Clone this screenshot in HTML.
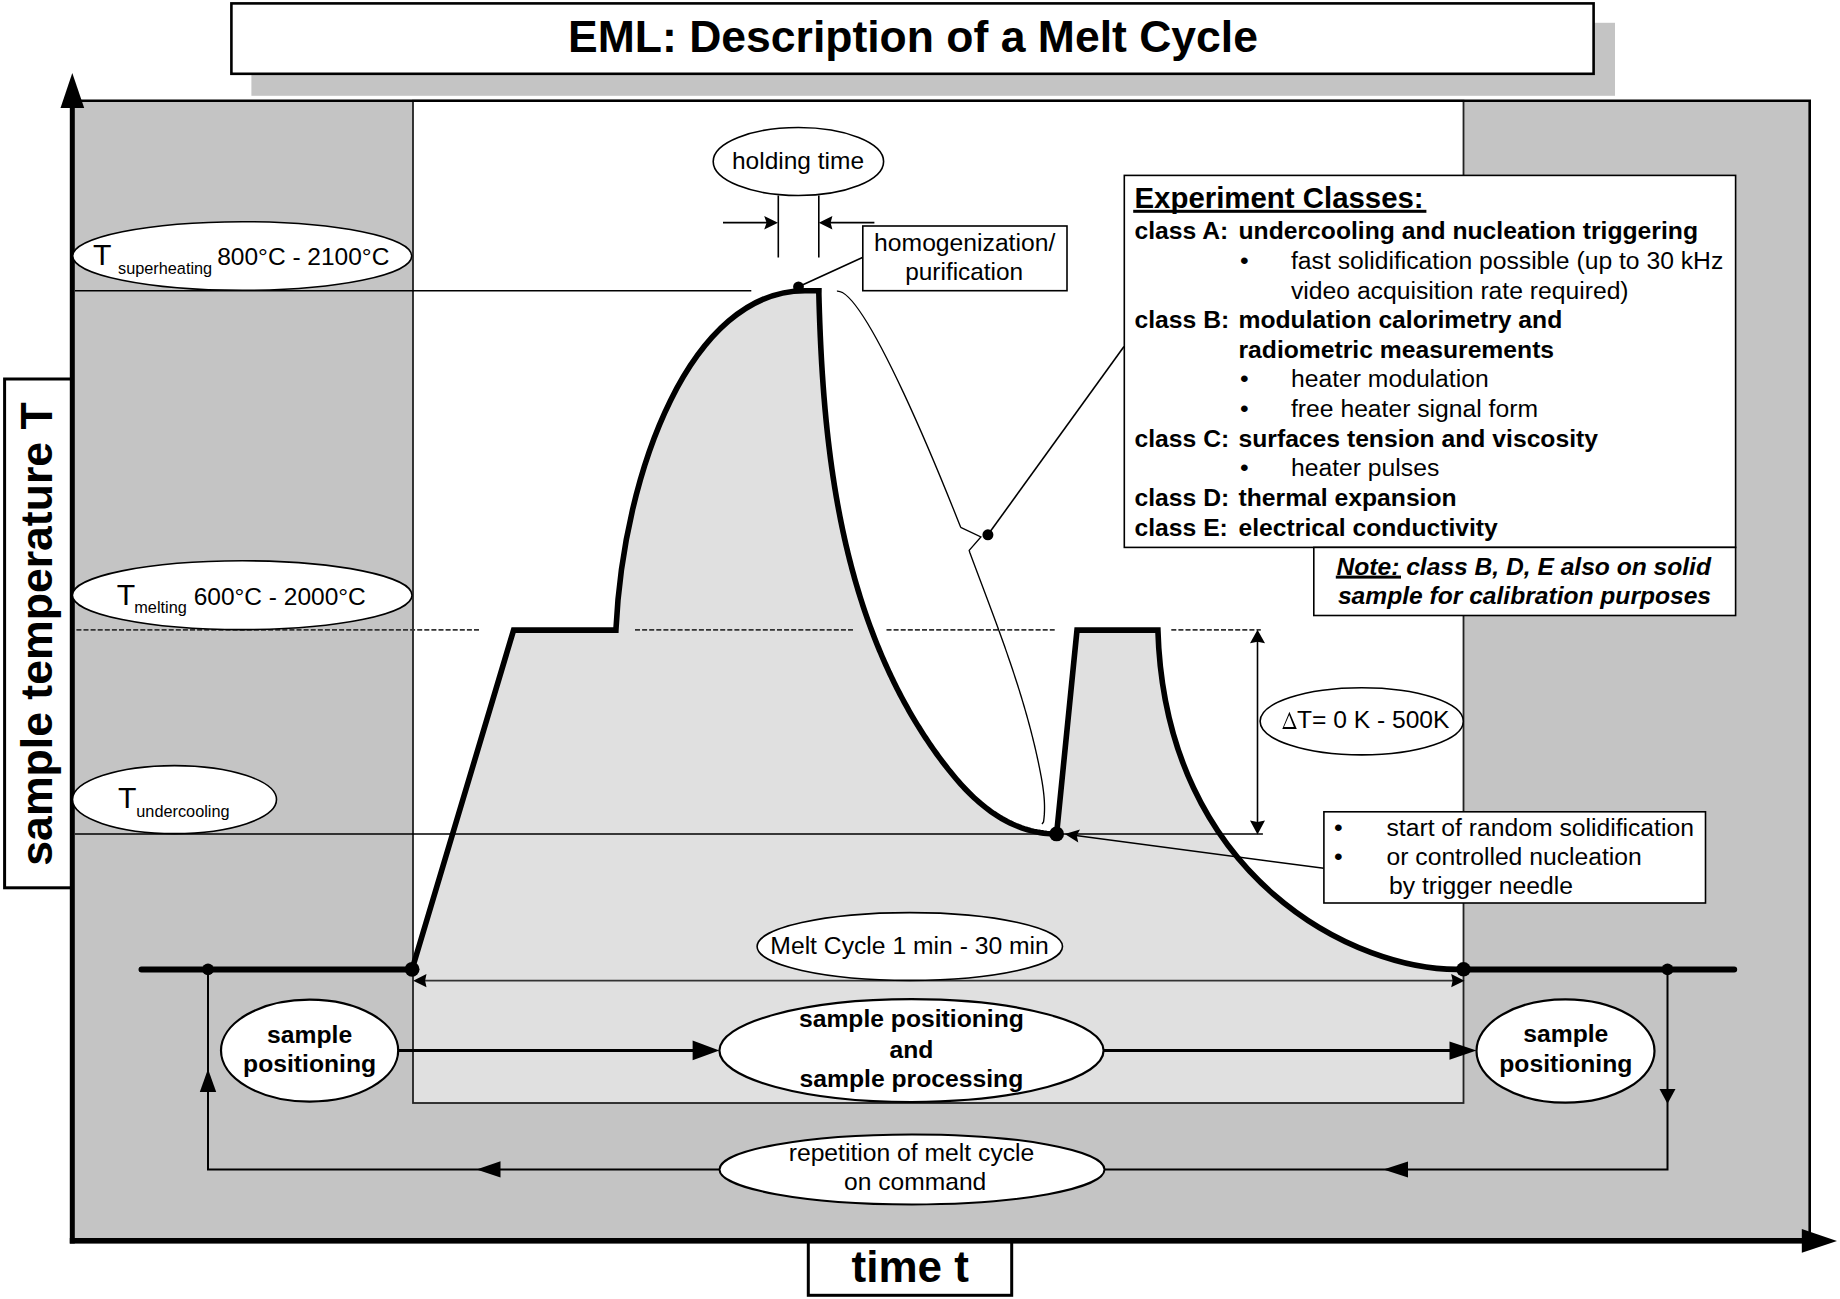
<!DOCTYPE html>
<html><head><meta charset="utf-8"><style>
html,body{margin:0;padding:0;background:#fff;}
svg{display:block;}
text{fill:#000;}
</style></head><body>
<svg width="1840" height="1299" viewBox="0 0 1840 1299">
<rect x="72" y="100.7" width="1737.7" height="1140" fill="#c4c4c4"/>
<rect x="413" y="100.7" width="1050.5" height="1002.3" fill="#fff"/>
<path d="M412.1,969.3 L513.6,630.1 L615.9,630.1 C623.4,470.2 691.1,290.7 805.0,290.7 L818.9,290.7 L818.85,293.91 L818.94,297.09 L819.02,300.26 L819.11,303.44 L819.21,306.62 L819.31,309.80 L819.41,312.98 L819.52,316.17 L819.63,319.35 L819.75,322.54 L819.87,325.72 L819.99,328.91 L820.13,332.09 L820.26,335.28 L820.40,338.47 L820.55,341.66 L820.70,344.85 L820.86,348.04 L821.02,351.23 L821.19,354.42 L821.36,357.61 L821.54,360.81 L821.72,364.00 L821.92,367.19 L822.11,370.38 L822.32,373.57 L822.53,376.76 L822.75,379.96 L822.97,383.15 L823.20,386.34 L823.44,389.53 L823.68,392.72 L823.93,395.91 L824.19,399.10 L824.46,402.29 L824.73,405.48 L825.01,408.67 L825.30,411.85 L825.60,415.04 L825.90,418.23 L826.21,421.41 L826.54,424.59 L826.86,427.78 L827.20,430.96 L827.55,434.14 L827.90,437.32 L828.26,440.50 L828.64,443.67 L829.02,446.85 L829.41,450.02 L829.81,453.19 L830.21,456.37 L830.63,459.53 L831.06,462.70 L831.49,465.87 L831.94,469.03 L832.40,472.19 L832.86,475.35 L833.34,478.51 L833.83,481.67 L834.32,484.82 L834.83,487.97 L835.35,491.12 L835.87,494.27 L836.41,497.42 L836.96,500.56 L837.52,503.70 L838.09,506.84 L838.68,509.97 L839.27,513.10 L839.88,516.23 L840.49,519.36 L841.12,522.48 L841.76,525.61 L842.41,528.72 L843.08,531.84 L843.75,534.95 L844.44,538.06 L845.14,541.17 L845.86,544.27 L846.58,547.37 L847.32,550.46 L848.07,553.56 L848.84,556.64 L849.61,559.73 L850.40,562.81 L851.21,565.89 L852.02,568.96 L852.85,572.04 L853.70,575.10 L854.55,578.16 L855.42,581.22 L856.31,584.28 L857.21,587.33 L858.12,590.38 L859.05,593.42 L859.99,596.46 L860.95,599.49 L861.92,602.52 L862.90,605.54 L863.90,608.56 L864.92,611.58 L865.95,614.59 L866.99,617.60 L868.05,620.60 L869.13,623.60 L870.22,626.59 L871.32,629.58 L872.45,632.56 L873.59,635.53 L874.74,638.51 L875.91,641.47 L877.10,644.43 L878.30,647.39 L879.52,650.34 L880.75,653.29 L882.00,656.23 L883.27,659.16 L884.56,662.09 L885.86,665.01 L887.18,667.93 L888.52,670.84 L889.87,673.74 L891.24,676.64 L892.63,679.53 L894.03,682.41 L895.45,685.28 L896.89,688.15 L898.35,691.01 L899.82,693.86 L901.31,696.70 L902.82,699.53 L904.34,702.36 L905.89,705.17 L907.45,707.98 L909.03,710.77 L910.62,713.56 L912.24,716.33 L913.87,719.10 L915.52,721.85 L917.19,724.60 L918.88,727.33 L920.58,730.05 L922.30,732.76 L924.04,735.46 L925.80,738.15 L927.58,740.82 L929.37,743.48 L931.19,746.13 L933.02,748.77 L934.87,751.39 L936.74,754.00 L938.63,756.60 L940.53,759.18 L942.46,761.75 L944.40,764.30 L946.37,766.84 L948.35,769.37 L950.36,771.87 L952.38,774.36 L954.43,776.82 L956.50,779.26 L958.60,781.67 L960.72,784.05 L962.87,786.41 L965.05,788.73 L967.26,791.02 L969.49,793.27 L971.76,795.49 L974.06,797.67 L976.39,799.80 L978.76,801.90 L981.15,803.95 L983.59,805.95 L986.06,807.90 L988.57,809.80 L991.11,811.65 L993.69,813.45 L996.31,815.18 L998.97,816.85 L1001.66,818.47 L1004.40,820.01 L1007.17,821.49 L1009.98,822.90 L1012.83,824.24 L1015.72,825.50 L1018.65,826.68 L1021.62,827.79 L1024.63,828.81 L1027.69,829.75 L1030.78,830.61 L1033.92,831.37 L1037.09,832.05 L1040.31,832.63 L1043.57,833.12 L1046.88,833.50 L1050.23,833.79 L1053.62,833.98 L1056.60,833.90 L1077,630.1 L1157.9,630.1 C1165.2,877.7 1355.8,972.9 1463.5,969.3 L1463.5,1103 L413,1103 Z" fill="#e0e0e0"/>
<rect x="413" y="100.7" width="1050.5" height="1002.3" fill="none" stroke="#222" stroke-width="1.8"/>
<path d="M72,100.8 L1809.7,100.8 L1809.7,1240" fill="none" stroke="#000" stroke-width="2.6"/>
<rect x="251.4" y="22.8" width="1363.6" height="73" fill="#c4c4c4"/>
<rect x="231.4" y="3.4" width="1362.2" height="70.4" fill="#fff" stroke="#000" stroke-width="2.6"/>
<text x="913" y="51.6" font-family="Liberation Sans, sans-serif" font-size="44.5" font-weight="bold" text-anchor="middle">EML: Description of a Melt Cycle</text>
<rect x="4.6" y="379" width="67" height="508.8" fill="#fff" stroke="#000" stroke-width="3"/>
<text transform="translate(51.6,634) rotate(-90)" font-family="Liberation Sans, sans-serif" font-size="44.6" font-weight="bold" text-anchor="middle">sample temperature T</text>
<rect x="808.3" y="1240" width="203.4" height="55.3" fill="#fff" stroke="#000" stroke-width="3"/>
<text x="910.2" y="1281.7" font-family="Liberation Sans, sans-serif" font-size="44" font-weight="bold" text-anchor="middle">time t</text>
<rect x="69.8" y="100" width="5" height="1143.5" fill="#000"/>
<path d="M72.3,73 L84.2,108 L60.5,108 Z" fill="#000"/>
<rect x="69.8" y="1238" width="1735" height="5.6" fill="#000"/>
<path d="M1837,1241 L1801.8,1229.1 L1801.8,1252.8 Z" fill="#000"/>
<path d="M75,290.7 L751.3,290.7" stroke="#000" stroke-width="1.6"/>
<path d="M75,834 L1262.9,834" stroke="#000" stroke-width="1.6"/>
<path d="M76.4,629.8 L480,629.8" stroke="#333" stroke-width="1.7" stroke-dasharray="5,2.1"/>
<path d="M635,629.8 L854,629.8" stroke="#333" stroke-width="1.7" stroke-dasharray="5,2.1"/>
<path d="M886.5,629.8 L1054.7,629.8" stroke="#333" stroke-width="1.7" stroke-dasharray="5,2.1"/>
<path d="M1171.3,629.8 L1260.8,629.8" stroke="#333" stroke-width="1.7" stroke-dasharray="5,2.1"/>
<ellipse cx="242.2" cy="256" rx="169.5" ry="34.3" fill="#fff" stroke="#000" stroke-width="1.6"/>
<ellipse cx="242.2" cy="595.2" rx="169.8" ry="34.4" fill="#fff" stroke="#000" stroke-width="1.6"/>
<ellipse cx="174.5" cy="799.6" rx="102" ry="34" fill="#fff" stroke="#000" stroke-width="1.6"/>
<text x="93" y="264.8" font-family="Liberation Sans, sans-serif" font-size="30.2">T</text>
<text x="118" y="273.9" font-family="Liberation Sans, sans-serif" font-size="16.3">superheating</text>
<text x="303.3" y="264.8" font-family="Liberation Sans, sans-serif" font-size="24.5" text-anchor="middle">800°C - 2100°C</text>
<text x="116.7" y="604.5" font-family="Liberation Sans, sans-serif" font-size="30.2">T</text>
<text x="134.3" y="613.4" font-family="Liberation Sans, sans-serif" font-size="16.3">melting</text>
<text x="279.7" y="604.5" font-family="Liberation Sans, sans-serif" font-size="24.5" text-anchor="middle">600°C - 2000°C</text>
<text x="118" y="808" font-family="Liberation Sans, sans-serif" font-size="30.2">T</text>
<text x="136.3" y="817" font-family="Liberation Sans, sans-serif" font-size="16.3">undercooling</text>
<ellipse cx="798.4" cy="161.5" rx="85.2" ry="34" fill="#fff" stroke="#000" stroke-width="1.6"/>
<text x="798" y="168.5" font-family="Liberation Sans, sans-serif" font-size="24.5" text-anchor="middle">holding time</text>
<path d="M778.3,195.5 L778.3,257.4 M818.8,195.5 L818.8,257.4" stroke="#000" stroke-width="1.6"/>
<path d="M723,222.7 L770,222.7 M874.4,222.7 L826,222.7" stroke="#000" stroke-width="1.7"/>
<path d="M778.0,222.7 L764.2,215.9 L766.6,222.7 L764.2,229.5 Z" fill="#000"/>
<path d="M818.8,222.7 L832.4,229.5 L830.6,222.7 L832.4,215.9 Z" fill="#000"/>
<path d="M798.5,286.8 L863,257.3" stroke="#000" stroke-width="1.6"/>
<rect x="862.8" y="226" width="204.2" height="64.7" fill="#fff" stroke="#000" stroke-width="1.6"/>
<text x="964.7" y="250.8" font-family="Liberation Sans, sans-serif" font-size="24.7" text-anchor="middle">homogenization/</text>
<text x="964.2" y="280.1" font-family="Liberation Sans, sans-serif" font-size="24.4" text-anchor="middle">purification</text>
<path d="M412.1,969.3 L513.6,630.1 L615.9,630.1 C623.4,470.2 691.1,290.7 805.0,290.7 L818.9,290.7 L818.85,293.91 L818.94,297.09 L819.02,300.26 L819.11,303.44 L819.21,306.62 L819.31,309.80 L819.41,312.98 L819.52,316.17 L819.63,319.35 L819.75,322.54 L819.87,325.72 L819.99,328.91 L820.13,332.09 L820.26,335.28 L820.40,338.47 L820.55,341.66 L820.70,344.85 L820.86,348.04 L821.02,351.23 L821.19,354.42 L821.36,357.61 L821.54,360.81 L821.72,364.00 L821.92,367.19 L822.11,370.38 L822.32,373.57 L822.53,376.76 L822.75,379.96 L822.97,383.15 L823.20,386.34 L823.44,389.53 L823.68,392.72 L823.93,395.91 L824.19,399.10 L824.46,402.29 L824.73,405.48 L825.01,408.67 L825.30,411.85 L825.60,415.04 L825.90,418.23 L826.21,421.41 L826.54,424.59 L826.86,427.78 L827.20,430.96 L827.55,434.14 L827.90,437.32 L828.26,440.50 L828.64,443.67 L829.02,446.85 L829.41,450.02 L829.81,453.19 L830.21,456.37 L830.63,459.53 L831.06,462.70 L831.49,465.87 L831.94,469.03 L832.40,472.19 L832.86,475.35 L833.34,478.51 L833.83,481.67 L834.32,484.82 L834.83,487.97 L835.35,491.12 L835.87,494.27 L836.41,497.42 L836.96,500.56 L837.52,503.70 L838.09,506.84 L838.68,509.97 L839.27,513.10 L839.88,516.23 L840.49,519.36 L841.12,522.48 L841.76,525.61 L842.41,528.72 L843.08,531.84 L843.75,534.95 L844.44,538.06 L845.14,541.17 L845.86,544.27 L846.58,547.37 L847.32,550.46 L848.07,553.56 L848.84,556.64 L849.61,559.73 L850.40,562.81 L851.21,565.89 L852.02,568.96 L852.85,572.04 L853.70,575.10 L854.55,578.16 L855.42,581.22 L856.31,584.28 L857.21,587.33 L858.12,590.38 L859.05,593.42 L859.99,596.46 L860.95,599.49 L861.92,602.52 L862.90,605.54 L863.90,608.56 L864.92,611.58 L865.95,614.59 L866.99,617.60 L868.05,620.60 L869.13,623.60 L870.22,626.59 L871.32,629.58 L872.45,632.56 L873.59,635.53 L874.74,638.51 L875.91,641.47 L877.10,644.43 L878.30,647.39 L879.52,650.34 L880.75,653.29 L882.00,656.23 L883.27,659.16 L884.56,662.09 L885.86,665.01 L887.18,667.93 L888.52,670.84 L889.87,673.74 L891.24,676.64 L892.63,679.53 L894.03,682.41 L895.45,685.28 L896.89,688.15 L898.35,691.01 L899.82,693.86 L901.31,696.70 L902.82,699.53 L904.34,702.36 L905.89,705.17 L907.45,707.98 L909.03,710.77 L910.62,713.56 L912.24,716.33 L913.87,719.10 L915.52,721.85 L917.19,724.60 L918.88,727.33 L920.58,730.05 L922.30,732.76 L924.04,735.46 L925.80,738.15 L927.58,740.82 L929.37,743.48 L931.19,746.13 L933.02,748.77 L934.87,751.39 L936.74,754.00 L938.63,756.60 L940.53,759.18 L942.46,761.75 L944.40,764.30 L946.37,766.84 L948.35,769.37 L950.36,771.87 L952.38,774.36 L954.43,776.82 L956.50,779.26 L958.60,781.67 L960.72,784.05 L962.87,786.41 L965.05,788.73 L967.26,791.02 L969.49,793.27 L971.76,795.49 L974.06,797.67 L976.39,799.80 L978.76,801.90 L981.15,803.95 L983.59,805.95 L986.06,807.90 L988.57,809.80 L991.11,811.65 L993.69,813.45 L996.31,815.18 L998.97,816.85 L1001.66,818.47 L1004.40,820.01 L1007.17,821.49 L1009.98,822.90 L1012.83,824.24 L1015.72,825.50 L1018.65,826.68 L1021.62,827.79 L1024.63,828.81 L1027.69,829.75 L1030.78,830.61 L1033.92,831.37 L1037.09,832.05 L1040.31,832.63 L1043.57,833.12 L1046.88,833.50 L1050.23,833.79 L1053.62,833.98 L1056.60,833.90 L1077,630.1 L1157.9,630.1 C1165.2,877.7 1355.8,972.9 1463.5,969.3" fill="none" stroke="#000" stroke-width="5.6" stroke-linejoin="miter"/>
<circle cx="798.5" cy="286.8" r="5.4" fill="#000"/>
<path d="M836.9,291.1 C868.4,287.8 960.4,527.2 960.7,527.3 L980.9,537 L969.2,550.4 L969.88,552.73 L970.72,554.97 L971.56,557.22 L972.40,559.47 L973.24,561.71 L974.09,563.96 L974.93,566.21 L975.78,568.45 L976.62,570.70 L977.47,572.95 L978.32,575.20 L979.16,577.44 L980.01,579.69 L980.86,581.94 L981.71,584.19 L982.55,586.43 L983.40,588.68 L984.24,590.93 L985.09,593.18 L985.93,595.43 L986.78,597.68 L987.62,599.93 L988.46,602.18 L989.30,604.43 L990.14,606.68 L990.98,608.94 L991.82,611.19 L992.66,613.44 L993.49,615.70 L994.32,617.95 L995.15,620.21 L995.98,622.46 L996.81,624.72 L997.63,626.98 L998.45,629.24 L999.27,631.50 L1000.09,633.76 L1000.90,636.02 L1001.71,638.28 L1002.52,640.55 L1003.33,642.81 L1004.13,645.08 L1004.93,647.34 L1005.73,649.61 L1006.52,651.88 L1007.31,654.15 L1008.09,656.42 L1008.87,658.70 L1009.65,660.97 L1010.43,663.24 L1011.20,665.52 L1011.96,667.80 L1012.72,670.08 L1013.48,672.36 L1014.23,674.64 L1014.98,676.92 L1015.72,679.21 L1016.46,681.50 L1017.20,683.78 L1017.92,686.07 L1018.65,688.37 L1019.37,690.66 L1020.08,692.95 L1020.79,695.25 L1021.49,697.55 L1022.18,699.85 L1022.87,702.15 L1023.56,704.45 L1024.24,706.76 L1024.91,709.07 L1025.57,711.38 L1026.23,713.69 L1026.89,716.00 L1027.53,718.32 L1028.17,720.63 L1028.80,722.95 L1029.43,725.28 L1030.05,727.60 L1030.66,729.93 L1031.27,732.25 L1031.86,734.58 L1032.45,736.92 L1033.04,739.25 L1033.61,741.59 L1034.18,743.93 L1034.74,746.27 L1035.29,748.61 L1035.83,750.96 L1036.36,753.31 L1036.89,755.66 L1037.41,758.02 L1037.92,760.37 L1038.42,762.73 L1038.91,765.10 L1039.39,767.46 L1039.87,769.83 L1040.33,772.20 L1040.78,774.57 L1041.23,776.95 L1041.65,779.32 L1042.06,781.70 L1042.44,784.08 L1042.80,786.46 L1043.14,788.84 L1043.44,791.22 L1043.72,793.59 L1043.96,795.97 L1044.16,798.34 L1044.32,800.72 L1044.43,803.09 L1044.51,805.45 L1044.53,807.82 L1044.50,810.17 L1044.42,812.53 L1044.29,814.88 L1044.09,817.23 L1043.84,819.57 L1043.51,821.90 L1042.00,824.00" fill="none" stroke="#000" stroke-width="1.35"/>
<circle cx="987.9" cy="534.8" r="5.5" fill="#000"/>
<path d="M987.9,534.8 L1124,346.5" stroke="#000" stroke-width="1.6"/>
<rect x="1124.3" y="175.4" width="611.3" height="372" fill="#fff" stroke="#000" stroke-width="1.6"/>
<rect x="1313.8" y="547.4" width="421.8" height="68.1" fill="#fff" stroke="#000" stroke-width="1.6"/>
<text x="1134.5" y="208.2" font-family="Liberation Sans, sans-serif" font-size="29.4" font-weight="bold">Experiment Classes:</text>
<rect x="1133.2" y="209.8" width="293.2" height="3" fill="#000"/>
<text x="1134.5" y="238.9" font-family="Liberation Sans, sans-serif" font-size="24.7" font-weight="bold">class A:</text>
<text x="1238.5" y="238.9" font-family="Liberation Sans, sans-serif" font-size="24.7" font-weight="bold">undercooling and nucleation triggering</text>
<text x="1134.5" y="328.2" font-family="Liberation Sans, sans-serif" font-size="24.7" font-weight="bold">class B:</text>
<text x="1238.5" y="328.2" font-family="Liberation Sans, sans-serif" font-size="24.7" font-weight="bold">modulation calorimetry and</text>
<text x="1238.5" y="358" font-family="Liberation Sans, sans-serif" font-size="24.7" font-weight="bold">radiometric measurements</text>
<text x="1134.5" y="446.6" font-family="Liberation Sans, sans-serif" font-size="24.7" font-weight="bold">class C:</text>
<text x="1238.5" y="446.6" font-family="Liberation Sans, sans-serif" font-size="24.7" font-weight="bold">surfaces tension and viscosity</text>
<text x="1134.5" y="505.7" font-family="Liberation Sans, sans-serif" font-size="24.7" font-weight="bold">class D:</text>
<text x="1238.5" y="505.7" font-family="Liberation Sans, sans-serif" font-size="24.7" font-weight="bold">thermal expansion</text>
<text x="1134.5" y="535.5" font-family="Liberation Sans, sans-serif" font-size="24.7" font-weight="bold">class E:</text>
<text x="1238.5" y="535.5" font-family="Liberation Sans, sans-serif" font-size="24.7" font-weight="bold">electrical conductivity</text>
<text x="1240" y="269" font-family="Liberation Sans, sans-serif" font-size="24.7">•</text>
<text x="1291" y="269" font-family="Liberation Sans, sans-serif" font-size="24.7">fast solidification possible (up to 30 kHz</text>
<text x="1291" y="298.7" font-family="Liberation Sans, sans-serif" font-size="24.7">video acquisition rate required)</text>
<text x="1240" y="387.4" font-family="Liberation Sans, sans-serif" font-size="24.7">•</text>
<text x="1291" y="387.4" font-family="Liberation Sans, sans-serif" font-size="24.7">heater modulation</text>
<text x="1240" y="417.2" font-family="Liberation Sans, sans-serif" font-size="24.7">•</text>
<text x="1291" y="417.2" font-family="Liberation Sans, sans-serif" font-size="24.7">free heater signal form</text>
<text x="1240" y="476.3" font-family="Liberation Sans, sans-serif" font-size="24.7">•</text>
<text x="1291" y="476.3" font-family="Liberation Sans, sans-serif" font-size="24.7">heater pulses</text>
<text x="1336.5" y="574.8" font-family="Liberation Sans, sans-serif" font-size="24.6" font-weight="bold" font-style="italic">Note: class B, D, E also on solid</text>
<rect x="1335.8" y="575.6" width="65.2" height="3" fill="#000"/>
<text x="1524.5" y="603.7" font-family="Liberation Sans, sans-serif" font-size="24.6" font-weight="bold" font-style="italic" text-anchor="middle">sample for calibration purposes</text>
<path d="M1257.5,637 L1257.5,827" stroke="#000" stroke-width="1.6"/>
<path d="M1257.5,629.7 L1250.0,643.3 L1257.5,641.8 L1265.0,643.3 Z" fill="#000"/>
<path d="M1257.5,834.6 L1265.0,820.6 L1257.5,822.1 L1250.0,820.6 Z" fill="#000"/>
<ellipse cx="1361.7" cy="721.3" rx="101.6" ry="33.6" fill="#fff" stroke="#000" stroke-width="1.6"/>
<path d="M1282.3,728.9 L1289.4,711.8 L1296.8,728.9 Z M1284.0,727.1 L1293.9,727.1 L1289.2,715.0 Z" fill="#000" fill-rule="evenodd"/>
<text x="1297" y="727.8" font-family="Liberation Sans, sans-serif" font-size="24.6">T= 0 K - 500K</text>
<path d="M1072,835 L1323.8,868.3" stroke="#000" stroke-width="1.6"/>
<path d="M1064.8,834.0 L1078.3,842.4 L1076.7,835.6 L1080.0,829.4 Z" fill="#000"/>
<rect x="1323.9" y="811.8" width="381.6" height="91.2" fill="#fff" stroke="#000" stroke-width="1.6"/>
<text x="1334" y="835.7" font-family="Liberation Sans, sans-serif" font-size="24.7">•</text>
<text x="1386.5" y="835.7" font-family="Liberation Sans, sans-serif" font-size="24.7">start of random solidification</text>
<text x="1334" y="864.6" font-family="Liberation Sans, sans-serif" font-size="24.7">•</text>
<text x="1386.5" y="864.6" font-family="Liberation Sans, sans-serif" font-size="24.7">or controlled nucleation</text>
<text x="1389" y="893.6" font-family="Liberation Sans, sans-serif" font-size="24.7">by trigger needle</text>
<path d="M141.5,969.4 L412,969.4 M1463.5,969.4 L1734.2,969.4" stroke="#000" stroke-width="6" stroke-linecap="round"/>
<circle cx="412.1" cy="969.3" r="7.4" fill="#000"/>
<circle cx="1463.5" cy="969.3" r="7.3" fill="#000"/>
<circle cx="1056.6" cy="833.9" r="7.4" fill="#000"/>
<circle cx="208" cy="969.4" r="5.9" fill="#000"/>
<circle cx="1667.5" cy="969.4" r="5.9" fill="#000"/>
<path d="M420,980.7 L1456,980.7" stroke="#333" stroke-width="1.7"/>
<path d="M413.2,980.7 L426.5,987.3 L425.1,980.7 L426.5,974.1 Z" fill="#000"/>
<path d="M1464.5,980.7 L1451.2,974.1 L1452.6,980.7 L1451.2,987.3 Z" fill="#000"/>
<ellipse cx="909.8" cy="946.5" rx="152.7" ry="33.9" fill="#fff" stroke="#000" stroke-width="1.6"/>
<text x="909.6" y="954.1" font-family="Liberation Sans, sans-serif" font-size="24.7" text-anchor="middle">Melt Cycle 1 min - 30 min</text>
<path d="M398.3,1050.4 L700,1050.4 M1103.6,1050.5 L1460,1050.5" stroke="#000" stroke-width="3"/>
<path d="M719.4,1050.4 L692.6,1040.6 L692.6,1050.4 L692.6,1060.2 Z" fill="#000"/>
<path d="M1476.5,1050.6 L1449.5,1041.5 L1449.5,1050.6 L1449.5,1059.7 Z" fill="#000"/>
<ellipse cx="309.6" cy="1050.6" rx="88.6" ry="51" fill="#fff" stroke="#000" stroke-width="2.2"/>
<ellipse cx="911.5" cy="1050.6" rx="192.1" ry="51.4" fill="#fff" stroke="#000" stroke-width="2.2"/>
<ellipse cx="1565.5" cy="1051" rx="89" ry="51.7" fill="#fff" stroke="#000" stroke-width="2.2"/>
<text x="309.6" y="1043" font-family="Liberation Sans, sans-serif" font-size="24.7" font-weight="bold" text-anchor="middle">sample</text>
<text x="309.6" y="1072.4" font-family="Liberation Sans, sans-serif" font-size="24.7" font-weight="bold" text-anchor="middle">positioning</text>
<text x="911.4" y="1026.7" font-family="Liberation Sans, sans-serif" font-size="24.7" font-weight="bold" text-anchor="middle">sample positioning</text>
<text x="911.4" y="1057.5" font-family="Liberation Sans, sans-serif" font-size="24.7" font-weight="bold" text-anchor="middle">and</text>
<text x="911.4" y="1086.7" font-family="Liberation Sans, sans-serif" font-size="24.7" font-weight="bold" text-anchor="middle">sample processing</text>
<text x="1565.8" y="1042.2" font-family="Liberation Sans, sans-serif" font-size="24.7" font-weight="bold" text-anchor="middle">sample</text>
<text x="1565.8" y="1072.3" font-family="Liberation Sans, sans-serif" font-size="24.7" font-weight="bold" text-anchor="middle">positioning</text>
<path d="M1667.5,969.4 L1667.5,1169.4 L208,1169.4 L208,969.4" fill="none" stroke="#000" stroke-width="2"/>
<path d="M1667.5,1103.8 L1675.5,1089.0 L1667.5,1089.0 L1659.5,1089.0 Z" fill="#000"/>
<path d="M208.0,1069.0 L199.8,1092.0 L208.0,1092.0 L216.2,1092.0 Z" fill="#000"/>
<path d="M476.5,1169.4 L500.5,1177.6 L500.5,1169.4 L500.5,1161.2 Z" fill="#000"/>
<path d="M1383.4,1169.4 L1408.0,1177.4 L1408.0,1169.4 L1408.0,1161.4 Z" fill="#000"/>
<ellipse cx="912" cy="1169.4" rx="192.5" ry="35" fill="#fff" stroke="#000" stroke-width="2"/>
<text x="911.5" y="1161.1" font-family="Liberation Sans, sans-serif" font-size="24.7" text-anchor="middle">repetition of melt cycle</text>
<text x="915.2" y="1190.3" font-family="Liberation Sans, sans-serif" font-size="24.6" text-anchor="middle">on command</text>
</svg>
</body></html>
